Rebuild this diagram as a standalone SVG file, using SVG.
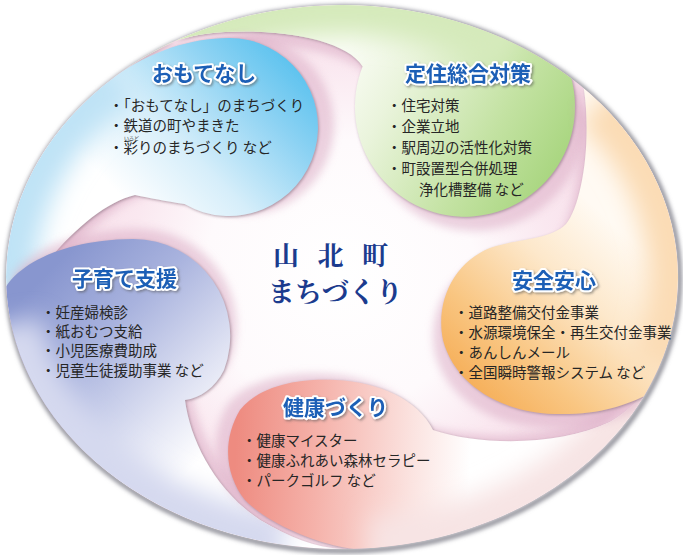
<svg xmlns="http://www.w3.org/2000/svg" width="683" height="555" viewBox="0 0 683 555">
<style>
.ttl{font-family:"Noto Sans CJK JP","Noto Sans",sans-serif;font-weight:700;font-size:21px;fill:#1d5fb6;stroke:#fff;stroke-width:4px;stroke-linejoin:round;paint-order:stroke;filter:url(#tsh)}
.it{font-family:"Noto Sans CJK JP","Noto Sans",sans-serif;font-size:14.5px;fill:#262626}
.ruby{font-size:5px;fill:#333}
.ctr{font-family:"Noto Serif CJK JP","Noto Sans CJK JP",serif;font-weight:700;fill:#1b3b8e}
.sh{fill:#dcaec6;opacity:.55;filter:url(#blur4)}
.tint{fill:none;stroke-width:60;filter:url(#blur12)}
.arm{filter:url(#edge)}
</style>
<defs>
<filter id="blur4" x="-20%" y="-20%" width="140%" height="140%"><feGaussianBlur stdDeviation="4"/></filter>
<filter id="blur12" x="-30%" y="-30%" width="160%" height="160%"><feGaussianBlur stdDeviation="12"/></filter>
<filter id="edge" x="-10%" y="-10%" width="120%" height="120%"><feDropShadow dx="1" dy="1" stdDeviation="1.5" flood-color="#8e7384" flood-opacity=".7"/></filter>
<filter id="tsh" x="-10%" y="-20%" width="130%" height="160%"><feDropShadow dx="1.5" dy="1.5" stdDeviation="1.2" flood-color="#555" flood-opacity=".55"/></filter>
<filter id="rimb" x="-5%" y="-5%" width="110%" height="110%"><feGaussianBlur stdDeviation="2"/></filter>
<clipPath id="disk"><ellipse cx="342" cy="277" rx="336" ry="272"/></clipPath>
<radialGradient id="gBg" gradientUnits="userSpaceOnUse" cx="340" cy="275" r="300">
<stop offset="0" stop-color="#ffffff"/><stop offset=".45" stop-color="#fefafc"/><stop offset=".7" stop-color="#fae8f0"/><stop offset="1" stop-color="#f6dce8"/>
</radialGradient>
<linearGradient id="gBlue" gradientUnits="userSpaceOnUse" x1="300" y1="55" x2="140" y2="215">
<stop offset="0" stop-color="#55c0ee"/><stop offset=".3" stop-color="#8fd3f3"/><stop offset=".65" stop-color="#d6eefa"/><stop offset="1" stop-color="#ffffff"/>
</linearGradient>
<linearGradient id="gGreen" gradientUnits="userSpaceOnUse" x1="575" y1="175" x2="350" y2="40">
<stop offset="0" stop-color="#a3d378"/><stop offset=".35" stop-color="#c3e2a2"/><stop offset=".75" stop-color="#eaf4dc"/><stop offset="1" stop-color="#fbfdf7"/>
</linearGradient>
<linearGradient id="gOrange" gradientUnits="userSpaceOnUse" x1="455" y1="410" x2="620" y2="230">
<stop offset="0" stop-color="#f4a548"/><stop offset=".35" stop-color="#f9c682"/><stop offset=".7" stop-color="#fde8cb"/><stop offset="1" stop-color="#fffaf3"/>
</linearGradient>
<linearGradient id="gPink" gradientUnits="userSpaceOnUse" x1="235" y1="460" x2="470" y2="470">
<stop offset="0" stop-color="#ee8b80"/><stop offset=".35" stop-color="#f5b2aa"/><stop offset=".75" stop-color="#fbe3e0"/><stop offset="1" stop-color="#ffffff"/>
</linearGradient>
<linearGradient id="gPurple" gradientUnits="userSpaceOnUse" x1="60" y1="260" x2="230" y2="430">
<stop offset="0" stop-color="#8896cf"/><stop offset=".35" stop-color="#a9b3de"/><stop offset=".75" stop-color="#e0e3f3"/><stop offset="1" stop-color="#ffffff"/>
</linearGradient>
<path id="pGreen" d="M126,68.6 A336 272 0 0 1 571.2,78.1 A110 110 0 1 1 362.6,66.4 C345,38 270,26 205,34 C170,39 145,52 126,68.6 Z"/>
<path id="pBlue" d="M9.3,314.9 A336 272 0 0 1 117.2,74.9 C150,52 190,38 229,38 A89 89 0 1 1 184.5,204.1 C165,201 150,198 135,195 C95,205 50,250 9.3,314.9 Z"/>
<path id="pPurple" d="M342,549 A336 272 0 0 1 6.2,286.5 C20,265 60,240 133,239 A97 97 0 0 1 224,370 C215,388 200,398 185,400 C190,440 215,490 260,520 C290,538 315,547 342,549 Z"/>
<path id="pPink" d="M653.5,378.9 A336 272 0 0 1 353.7,548.8 C320,545 270,525 245,500 C225,475 222,440 240,410 C260,385 300,378 335,380 C380,382 418,400 433,430 C480,446 560,446 610,422 C630,410 645,394 653.5,378.9 Z"/>
<path id="pOrange" d="M583.7,88 A336 272 0 0 1 644,396.2 C625,405 600,415 555,414 C500,412 455,385 443,340 C435,300 455,262 490,248 C520,238 550,240 566,224 C582,205 592,140 583.7,88 Z"/>
<clipPath id="cGreen"><use href="#pGreen"/></clipPath>
<clipPath id="cBlue"><use href="#pBlue"/></clipPath>
<clipPath id="cPurple"><use href="#pPurple"/></clipPath>
<clipPath id="cPink"><use href="#pPink"/></clipPath>
<clipPath id="cOrange"><use href="#pOrange"/></clipPath>
</defs>

<g id="disk-base">
<ellipse cx="343.5" cy="279" rx="336" ry="272" fill="none" stroke="#8d8d96" stroke-width="5" filter="url(#rimb)"/>
<ellipse cx="342" cy="277" rx="336" ry="272" fill="url(#gBg)"/>
</g>

<g id="arms" clip-path="url(#disk)">
<g id="node-teiju">
<use href="#pGreen" class="sh" transform="translate(10,14)"/>
<use href="#pGreen" class="arm" fill="url(#gGreen)"/>
<g clip-path="url(#cGreen)"><path class="tint" stroke="#d5eabb" d="M135.1,62.7 A336 272 0 0 1 510,41.4"/></g>
</g>
<g id="node-omotenashi">
<use href="#pBlue" class="sh" transform="translate(16,-2)"/>
<use href="#pBlue" class="arm" fill="url(#gBlue)"/>
<g clip-path="url(#cBlue)"><path class="tint" stroke="#bfe3f6" d="M7.3,300.7 A336 272 0 0 1 117.2,74.9"/></g>
</g>
<g id="node-kosodate">
<use href="#pPurple" class="sh" transform="translate(6,-10)"/>
<use href="#pPurple" class="arm" fill="url(#gPurple)"/>
<g clip-path="url(#cPurple)"><path class="tint" stroke="#d5d9ef" d="M283.7,544.9 A336 272 0 0 1 11.1,324.2"/></g>
</g>
<g id="node-kenko">
<use href="#pPink" class="sh" transform="translate(-12,-6)"/>
<use href="#pPink" class="arm" fill="url(#gPink)"/>
<g clip-path="url(#cPink)"><path class="tint" stroke="#f7e4e4" d="M646.5,392 A336 272 0 0 1 371.3,548"/></g>
</g>
<g id="node-anzen">
<use href="#pOrange" class="sh" transform="translate(-8,14)"/>
<use href="#pOrange" class="arm" fill="url(#gOrange)"/>
<g clip-path="url(#cOrange)"><path class="tint" stroke="#fbdcb5" d="M599.4,102.2 A336 272 0 0 1 657.7,370"/></g>
</g>
</g>

<g id="texts-teiju">
<text class="ttl" x="405" y="81">定住総合対策</text>
<text class="it" x="387" y="110.5">・住宅対策</text>
<text class="it" x="387" y="131.5">・企業立地</text>
<text class="it" x="387" y="152.5">・駅周辺の活性化対策</text>
<text class="it" x="387" y="173.5">・町設置型合併処理</text>
<text class="it" x="419" y="194.5">浄化槽整備 など</text>
</g>
<g id="texts-omotenashi">
<text class="ttl" x="152" y="81">おもてなし</text>
<text class="it" x="109" y="110.5">・「おもてなし」のまちづくり</text>
<text class="it" x="109" y="131">・鉄道の町やまきた<tspan x="109" y="153">・</tspan><tspan class="ruby" x="124" y="139.6">いろど</tspan><tspan x="123.5" y="153">彩りのまちづくり など</tspan></text>
</g>
<g id="texts-kosodate">
<text class="ttl" x="72" y="286">子育て支援</text>
<text class="it" x="41" y="317.5">・妊産婦検診</text>
<text class="it" x="41" y="337">・紙おむつ支給</text>
<text class="it" x="41" y="356">・小児医療費助成</text>
<text class="it" x="41" y="375.5">・児童生徒援助事業 など</text>
</g>
<g id="texts-anzen">
<text class="ttl" x="512" y="288">安全安心</text>
<text class="it" x="454" y="317.5">・道路整備交付金事業</text>
<text class="it" x="454" y="338">・水源環境保全・再生交付金事業</text>
<text class="it" x="454" y="358">・あんしんメール</text>
<text class="it" x="454" y="378">・全国瞬時警報システム など</text>
</g>
<g id="texts-kenko">
<text class="ttl" x="283" y="415">健康づくり</text>
<text class="it" x="242" y="445.5">・健康マイスター</text>
<text class="it" x="242" y="465.5">・健康ふれあい森林セラピー</text>
<text class="it" x="242" y="485.5">・パークゴルフ など</text>
</g>
<g id="center">
<text class="ctr" x="273" y="265" font-size="26" letter-spacing="18.5">山北町</text>
<text class="ctr" x="268" y="302" font-size="27">まちづくり</text>
</g>
</svg>
